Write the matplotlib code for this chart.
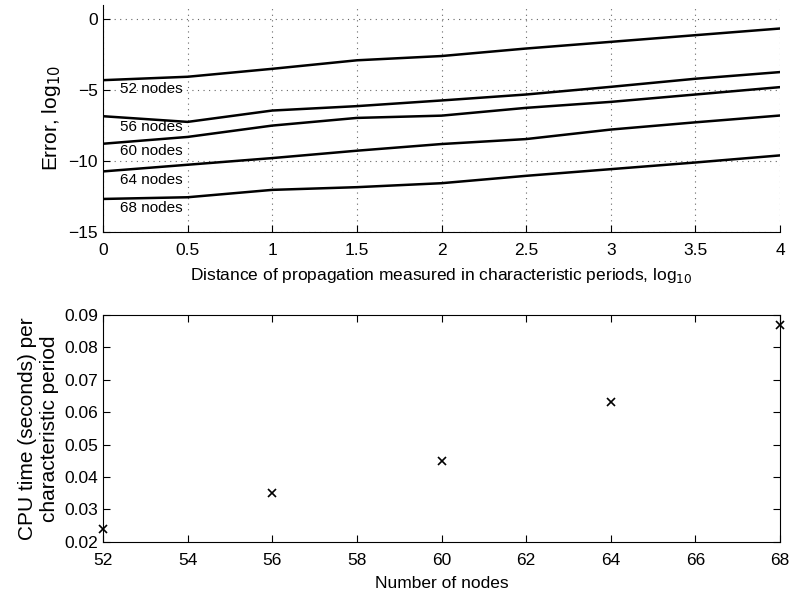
import numpy as np
import matplotlib
matplotlib.use('Agg')
import matplotlib.pyplot as plt

plt.rcParams['font.family'] = ['Liberation Sans', 'DejaVu Sans']

# top panel: error vs distance (log10)
distance = [0, 0.5, 1, 1.5, 2, 2.5, 3, 3.5, 4]
err_52 = [-4.3, -4.06, -3.5, -2.9, -2.6, -2.07, -1.6, -1.13, -0.66]
err_56 = [-6.84, -7.24, -6.44, -6.13, -5.73, -5.31, -4.77, -4.2, -3.73]
err_60 = [-8.78, -8.3, -7.5, -6.96, -6.8, -6.25, -5.83, -5.31, -4.79]
err_64 = [-10.73, -10.26, -9.79, -9.27, -8.8, -8.45, -7.78, -7.27, -6.79]
err_68 = [-12.67, -12.55, -12.03, -11.84, -11.56, -11.04, -10.57, -10.1, -9.6]
curves = [err_52, err_56, err_60, err_64, err_68]
labels = ['52 nodes', '56 nodes', '60 nodes', '64 nodes', '68 nodes']
label_y = [-4.9, -7.6, -9.27, -11.3, -13.3]

# bottom panel: CPU time vs nodes
nodes = [52, 56, 60, 64, 68]
cpu_time = [0.024, 0.035, 0.045, 0.063, 0.087]

fig = plt.figure(figsize=(7.92, 5.96), dpi=100)

ax1 = fig.add_axes([0.130, 0.6107, 0.855, 0.381])
for ys in curves:
    ax1.plot(distance, ys, color='black', lw=1.8)
for lab, yy in zip(labels, label_y):
    ax1.text(0.1, yy, lab, fontsize=11, va='center', ha='left')
ax1.set_xlim(0, 4)
ax1.set_ylim(-15, 1)
ax1.set_xticks(distance)
ax1.set_xticklabels(['0', '0.5', '1', '1.5', '2', '2.5', '3', '3.5', '4'])
ax1.set_yticks([0, -5, -10, -15])
ax1.set_yticklabels(['0', '\u22125', '\u221210', '\u221215'])
ax1.grid(True, linestyle=(0, (1, 4)), color='#666666', lw=0.8)
ax1.spines['top'].set_visible(False)
ax1.spines['right'].set_visible(False)
ax1.tick_params(direction='in', labelsize=12.5, length=5)
ax1.tick_params(axis='x', pad=8)
ax1.set_xlabel('Distance of propagation measured in characteristic periods, log$_{10}$',
               fontsize=12.5, labelpad=6)
ax1.set_ylabel('Error, log$_{10}$', fontsize=15)

ax2 = fig.add_axes([0.130, 0.0911, 0.855, 0.3804])
ax2.plot(nodes, cpu_time, 'x', color='black', ms=6, mew=1.2, clip_on=False)
ax2.set_xlim(52, 68)
ax2.set_ylim(0.02, 0.09)
ax2.set_xticks(np.arange(52, 69, 2))
ax2.set_yticks([0.02, 0.03, 0.04, 0.05, 0.06, 0.07, 0.08, 0.09])
ax2.tick_params(direction='in', labelsize=12.5, length=5, top=True, right=True)
ax2.tick_params(axis='x', pad=8)
ax2.set_xlabel('Number of nodes', fontsize=12.5, labelpad=6)
ax2.set_ylabel('CPU time (seconds) per\ncharacteristic period', fontsize=15)

fig.savefig('out.png', dpi=100)
